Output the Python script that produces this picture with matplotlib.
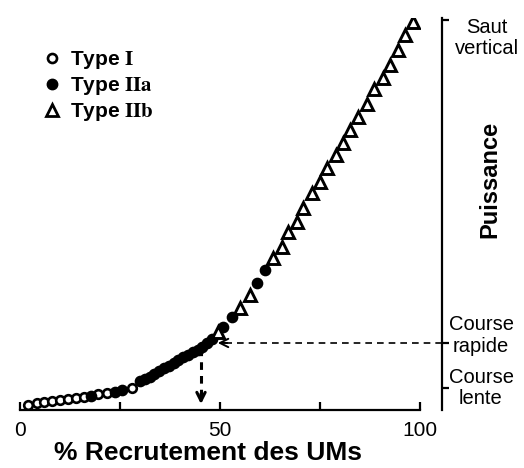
import matplotlib
matplotlib.use("Agg")
import matplotlib.pyplot as plt
from matplotlib.lines import Line2D

plt.rcParams['font.family'] = ['Liberation Sans', 'DejaVu Sans']
plt.rcParams['mathtext.fontset'] = 'stix'

# ---- data ----
type1_x = [2.0, 4.25, 6.0, 8.0, 10.0, 12.0, 14.0, 16.0, 19.5, 21.7, 28.0]
type1_y = [1.3, 1.8, 2.0, 2.3, 2.6, 2.8, 3.1, 3.3, 4.1, 4.3, 5.6]

type2a_x = [17.8, 23.8, 25.5, 30.0, 31.2, 32.4, 33.6, 34.8, 36.0, 37.2, 38.4,
            39.6, 40.8, 42.0, 43.2, 44.4, 45.6, 46.8, 48.0, 50.75, 53.0,
            59.25, 61.25]
type2a_y = [3.6, 4.6, 5.1, 7.5, 7.9, 8.5, 9.2, 9.9, 10.6, 11.3, 12.0,
            12.7, 13.4, 14.0, 14.7, 15.4, 16.0, 17.0, 18.2, 21.2, 23.7,
            32.4, 35.7]

type2b_x = [49.5, 55.0, 57.5, 63.25, 65.5, 67.0, 69.25, 70.75, 73.0, 75.0,
            76.75, 79.0, 80.75, 82.5, 84.5, 86.75, 88.5, 90.75, 92.5, 94.5,
            96.25, 98.25]
type2b_y = [19.9, 26.0, 29.3, 38.8, 41.6, 45.4, 48.0, 51.5, 55.4, 58.2,
            61.7, 65.1, 68.1, 71.4, 74.7, 78.1, 81.9, 84.7, 88.0, 91.8,
            95.7, 99.0]

legend_labels = [r"Type $\mathbf{I}$", r"Type $\mathbf{IIa}$", r"Type $\mathbf{IIb}$"]
x_ticks = [0, 25, 50, 75, 100]
x_ticklabels = ["0", "", "50", "", "100"]

# power levels on the right scale
level_lente = 5.6
level_rapide = 17.1
level_saut = 99.5
recruit_rapide = 45.25

fig = plt.figure(figsize=(5.24, 4.68), dpi=100)
ax = fig.add_axes([20/524, (468-410)/468, 400/524, 392/468])
ax.set_xlim(0, 100)
ax.set_ylim(0, 100)

ax.plot(type1_x, type1_y, 'o', ms=6.2, mfc='white', mec='black', mew=1.9,
        ls='none', zorder=3)
ax.plot(type2a_x, type2a_y, 'o', ms=7.4, mfc='black', mec='black', mew=1.0,
        ls='none', zorder=3)
ax.plot(type2b_x, type2b_y, '^', ms=8.3, mfc='white', mec='black', mew=2.1,
        ls='none', zorder=3)

# spines
for s in ['top', 'left']:
    ax.spines[s].set_visible(False)
ax.spines['bottom'].set_linewidth(1.6)
ax.spines['right'].set_position(('axes', 1.055))
ax.spines['right'].set_linewidth(1.6)
ax.spines['right'].set_bounds(0, 100)

ax.set_xticks(x_ticks)
ax.set_xticklabels(x_ticklabels)
ax.tick_params(axis='x', direction='in', length=6, width=1.6, pad=8,
               labelsize=15, top=False)
ax.yaxis.tick_right()
ax.set_yticks([level_lente, level_rapide, level_saut])
ax.set_yticklabels([])
ax.tick_params(axis='y', direction='out', length=5, width=1.6, left=False,
               right=True)

ax.set_xlabel("% Recrutement des UMs", fontsize=19, fontweight='bold',
              va='center')
ax.xaxis.set_label_coords(0.47, -0.11)

# dashed guides
xr = 105.5
ax.plot([xr, 50.5], [level_rapide, level_rapide], ls=(0, (4, 3)), color='black',
        lw=1.2, clip_on=False)
ax.annotate("", xy=(48.75, level_rapide), xytext=(52.5, level_rapide),
            arrowprops=dict(arrowstyle='->', color='black', lw=1.4,
                            mutation_scale=15))
ax.plot([recruit_rapide, recruit_rapide], [15.8, 3.0], ls=(0, (2.5, 2)),
        color='black', lw=2.2)
ax.annotate("", xy=(recruit_rapide, 0.8), xytext=(recruit_rapide, 4.8),
            arrowprops=dict(arrowstyle='->', color='black', lw=2.2,
                            mutation_scale=15))

# right scale labels
ax.text(116.75, 94.9, "Saut\nvertical", ha='center', va='center', fontsize=14.5,
        linespacing=1.1, clip_on=False)
ax.text(115.25, 19.1, "Course\nrapide", ha='center', va='center', fontsize=14.5,
        linespacing=1.2, clip_on=False)
ax.text(115.25, 5.6, "Course\nlente", ha='center', va='center', fontsize=14.5,
        linespacing=1.1, clip_on=False)
ax.text(117.5, 58.7, "Puissance", ha='center', va='center', fontsize=17,
        fontweight='bold', rotation=90, clip_on=False)

handles = [
    Line2D([], [], marker='o', ls='none', ms=6.5, mfc='white', mec='black', mew=1.9),
    Line2D([], [], marker='o', ls='none', ms=7.5, mfc='black', mec='black'),
    Line2D([], [], marker='^', ls='none', ms=8, mfc='white', mec='black', mew=2.0),
]
ax.legend(handles, legend_labels, loc='upper left', bbox_to_anchor=(0.054, 0.921),
          frameon=False, borderpad=0, borderaxespad=0, handlelength=1.0,
          handletextpad=0.36, labelspacing=0.2,
          prop={'family': 'Liberation Sans', 'weight': 'bold', 'size': 15})

fig.savefig("out.png", dpi=100)
